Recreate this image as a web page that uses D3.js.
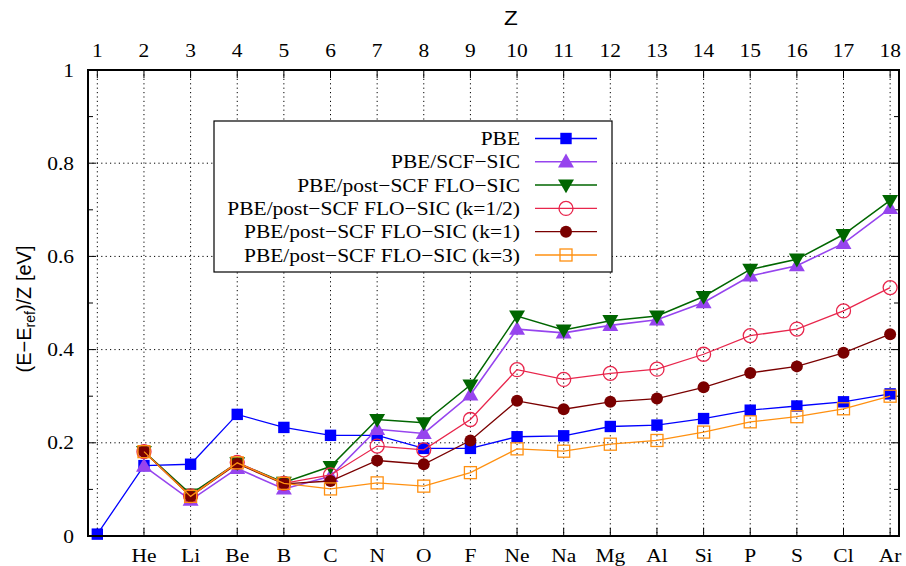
<!DOCTYPE html>
<html><head><meta charset="utf-8">
<script src="https://cdn.jsdelivr.net/npm/d3@7"></script>
<style>body{margin:0;background:#fff}svg{display:block}</style>
</head><body>
<svg id="c" width="906" height="566"></svg>
<script>
const zTicks = [1,2,3,4,5,6,7,8,9,10,11,12,13,14,15,16,17,18];
const elements = ["","He","Li","Be","B","C","N","O","F","Ne","Na","Mg","Al","Si","P","S","Cl","Ar"];
const yTicks = [0,0.2,0.4,0.6,0.8,1];
const yMinor = [0.1,0.3,0.5,0.7,0.9];
const seriesNames = ["PBE","PBE/SCF\u2212SIC","PBE/post\u2212SCF FLO\u2212SIC","PBE/post\u2212SCF FLO\u2212SIC (k=1/2)","PBE/post\u2212SCF FLO\u2212SIC (k=1)","PBE/post\u2212SCF FLO\u2212SIC (k=3)"];
const zPBE = [1,2,3,4,5,6,7,8,9,10,11,12,13,14,15,16,17,18];
const zOther = [2,3,4,5,6,7,8,9,10,11,12,13,14,15,16,17,18];
const pbe      = [0.004,0.151,0.154,0.261,0.233,0.216,0.216,0.188,0.188,0.213,0.215,0.235,0.238,0.252,0.270,0.279,0.288,0.305];
const scfSic   = [0.150,0.077,0.145,0.101,0.128,0.229,0.220,0.303,0.444,0.436,0.452,0.464,0.501,0.558,0.580,0.628,0.703];
const floSic   = [0.181,0.090,0.157,0.115,0.149,0.250,0.243,0.324,0.472,0.442,0.462,0.472,0.514,0.572,0.594,0.647,0.720];
const floK05   = [0.181,0.086,0.158,0.113,0.131,0.193,0.185,0.250,0.357,0.336,0.349,0.358,0.390,0.430,0.444,0.483,0.533];
const floK1    = [0.181,0.085,0.155,0.112,0.118,0.162,0.154,0.205,0.290,0.272,0.288,0.295,0.319,0.350,0.364,0.393,0.433];
const floK3    = [0.181,0.085,0.157,0.113,0.101,0.114,0.107,0.136,0.187,0.182,0.197,0.205,0.223,0.245,0.256,0.273,0.300];

const svg = d3.select("#c");
const L=88, R=899, T=70, B=536;
const x = d3.scaleLinear().domain([0.8,18.19]).range([L,R]);
const y = d3.scaleLinear().domain([0,1]).range([B,T]);
const SX = 1.13;
const serif = "'Liberation Serif','Times New Roman',serif";
const sans = "'Liberation Sans',Arial,sans-serif";
function txt(g, tx, ty, s, anchor, size, fam){
  return g.append("text").attr("transform",`translate(${tx},${ty}) scale(${SX},1)`)
    .attr("text-anchor",anchor).attr("font-family",fam||serif).attr("font-size",size||19).attr("fill","#000").text(s);
}

// grid
const grid = svg.append("g").attr("stroke","#000").attr("stroke-width",1).attr("stroke-dasharray","1.2,3.2");
zTicks.forEach(z=>grid.append("line").attr("x1",x(z)).attr("x2",x(z)).attr("y1",T).attr("y2",B));
yTicks.filter(v=>v>0&&v<1).forEach(v=>grid.append("line").attr("x1",L).attr("x2",R).attr("y1",y(v)).attr("y2",y(v)));

// ticks
const tk = svg.append("g").attr("stroke","#000").attr("stroke-width",1);
zTicks.forEach(z=>{
  tk.append("line").attr("x1",x(z)).attr("x2",x(z)).attr("y1",B).attr("y2",B-8);
  tk.append("line").attr("x1",x(z)).attr("x2",x(z)).attr("y1",T).attr("y2",T+8);
});
yTicks.forEach(v=>{
  tk.append("line").attr("x1",L).attr("x2",L+8).attr("y1",y(v)).attr("y2",y(v));
  tk.append("line").attr("x1",R).attr("x2",R-8).attr("y1",y(v)).attr("y2",y(v));
});
yMinor.forEach(v=>{
  tk.append("line").attr("x1",L).attr("x2",L+5).attr("y1",y(v)).attr("y2",y(v));
  tk.append("line").attr("x1",R).attr("x2",R-5).attr("y1",y(v)).attr("y2",y(v));
});

// labels
const lab = svg.append("g");
yTicks.forEach(v=>txt(lab, 74, y(v)+6.5, d3.format("")(v), "end"));
zTicks.forEach(z=>txt(lab, x(z), 57, String(z), "middle"));
zTicks.forEach((z,i)=>{ if(elements[i]) txt(lab, x(z), 562, elements[i], "middle"); });
txt(lab, 511, 25, "Z", "middle", 20, sans);
const yt = lab.append("text").attr("transform",`translate(31,309) rotate(-90)`)
  .attr("text-anchor","middle").attr("font-family",sans).attr("font-size",20).attr("fill","#000");
yt.append("tspan").text("(E\u2212E");
yt.append("tspan").attr("font-size",14).attr("dy",4).text("ref");
yt.append("tspan").attr("dy",-4).text(")/Z [eV]");

// series
const symSq = d3.symbol().type(d3.symbolSquare).size(130);
const symTriU = d3.symbol().type(d3.symbolTriangle).size(110);
const symTriD = d3.symbol().type(d3.symbolTriangle).size(110);
const series = [
  {name:seriesNames[0], zs:zPBE, vals:pbe, color:"#0000ff", lw:1.3, mk:"sq", fill:true},
  {name:seriesNames[1], zs:zOther, vals:scfSic, color:"#9644ee", lw:1.6, mk:"tu", fill:true},
  {name:seriesNames[2], zs:zOther, vals:floSic, color:"#006600", lw:1.5, mk:"td", fill:true},
  {name:seriesNames[3], zs:zOther, vals:floK05, color:"#e8264c", lw:1.3, mk:"ci", fill:false},
  {name:seriesNames[4], zs:zOther, vals:floK1, color:"#7a0000", lw:1.3, mk:"cf", fill:true},
  {name:seriesNames[5], zs:zOther, vals:floK3, color:"#ff9010", lw:1.3, mk:"so", fill:false}
];
function marker(g, s, px, py){
  if(s.mk==="sq") g.append("path").attr("d",symSq()).attr("transform",`translate(${px},${py})`).attr("fill",s.color);
  else if(s.mk==="tu") g.append("path").attr("d",symTriU()).attr("transform",`translate(${px},${py+1})`).attr("fill",s.color);
  else if(s.mk==="td") g.append("path").attr("d",symTriD()).attr("transform",`translate(${px},${py-1}) rotate(180)`).attr("fill",s.color);
  else if(s.mk==="ci") g.append("circle").attr("cx",px).attr("cy",py).attr("r",7).attr("fill","none").attr("stroke",s.color).attr("stroke-width",1.3);
  else if(s.mk==="cf") g.append("circle").attr("cx",px).attr("cy",py).attr("r",6).attr("fill",s.color);
  else if(s.mk==="so") g.append("rect").attr("x",px-6).attr("y",py-6).attr("width",12).attr("height",12).attr("fill","none").attr("stroke",s.color).attr("stroke-width",1.3);
}
const line = d3.line().x(d=>x(d[0])).y(d=>y(d[1]));
series.forEach(s=>{
  const g = svg.append("g");
  const pts = s.zs.map((z,i)=>[z,s.vals[i]]);
  g.append("path").attr("d",line(pts)).attr("fill","none").attr("stroke",s.color).attr("stroke-width",s.lw);
  pts.forEach(p=>marker(g,s,x(p[0]),y(p[1])));
});

// legend
const lg = svg.append("g");
lg.append("rect").attr("x",214).attr("y",121).attr("width",398).attr("height",151).attr("fill","#fff").attr("stroke","#000").attr("stroke-width",1.2);
series.forEach((s,i)=>{
  const cy = 138.5 + i*23.3;
  txt(lg, 520, cy+6.5, s.name, "end");
  lg.append("line").attr("x1",535).attr("x2",597).attr("y1",cy).attr("y2",cy).attr("stroke",s.color).attr("stroke-width",s.lw);
  marker(lg, s, 566, cy);
});

// frame
svg.append("rect").attr("x",L).attr("y",T).attr("width",R-L).attr("height",B-T).attr("fill","none").attr("stroke","#000").attr("stroke-width",2);
</script>
</body></html>
